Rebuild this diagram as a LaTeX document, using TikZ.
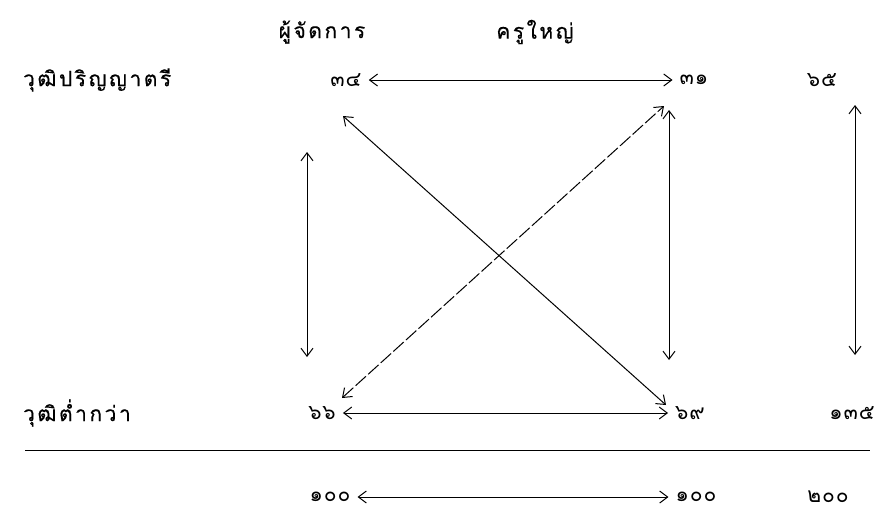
\documentclass[tikz,border=0pt]{standalone}
\usepackage{fontspec}
\newfontfamily\thaifont[Script=Thai,LetterSpace=12,FakeBold=0.4]{Loma}
\newfontfamily\thainum[Script=Thai,LetterSpace=4]{Loma}
\usetikzlibrary{arrows.meta}
\begin{document}
\begin{tikzpicture}[x=1pt,y=-1pt,
    lbl/.style={font=\thaifont\fontsize{21}{24}\selectfont, inner sep=1pt},
    num/.style={font=\thainum\fontsize{21}{24}\selectfont, inner sep=1pt},
    link/.style={<->, >={Straight Barb[length=8pt,width=12pt]}, line width=1pt, shorten <=6pt, shorten >=6pt}]
\useasboundingbox (0,0) rectangle (877,517);
% Column heads
\node[lbl] (hdA) at (322,32) {ผู้จัดการ};
\node[lbl] (hdB) at (535,32) {ครูใหญ่};
% Row heads
\node[lbl, anchor=west] (rowA) at (22,80) {วุฒิปริญญาตรี};
\node[lbl, anchor=west] (rowB) at (22,413) {วุฒิต่ำกว่า};
% Numbers
\foreach \n/\x/\y/\t in {a34/346/80/๓๔, a31/694/80/๓๑, a65/822/80/๖๕,
                         b66/322/413/๖๖, b69/690/413/๖๙, b135/852/413/๑๓๕,
                         c100/330/497/๑๐๐, d100/696/497/๑๐๐, e200/828/497/๒๐๐} {
    \node[num] (\n) at (\x,\y) {\t};
}
% Vertical arrow ends
\coordinate (vLt) at (307,152); \coordinate (vLb) at (307,357);
\coordinate (vMt) at (669,110); \coordinate (vMb) at (669,360);
\coordinate (vRt) at (855,105); \coordinate (vRb) at (855,355);
% Diagonal arrow ends
\coordinate (dNW) at (343,116); \coordinate (dSE) at (666,405);
\coordinate (dSW) at (342,398); \coordinate (dNE) at (664,106);

% Arrows
\draw[link] (a34.east) -- (a31.west);
\draw[link] (b66.east) -- (b69.west);
\draw[link] (c100.east) -- (d100.west);
\draw[link, shorten <=0pt, shorten >=0pt] (vLt) -- (vLb);
\draw[link, shorten <=0pt, shorten >=0pt] (vMt) -- (vMb);
\draw[link, shorten <=0pt, shorten >=0pt] (vRt) -- (vRb);
\draw[link, shorten <=0pt, shorten >=0pt] (dNW) -- (dSE);
\draw[link, shorten <=0pt, shorten >=0pt, dash pattern=on 14pt off 3pt] (dSW) -- (dNE);

% Rule above totals
\coordinate (ruleL) at (25,450); \coordinate (ruleR) at (870,450);
\draw[line width=1pt] (ruleL) -- (ruleR);
\end{tikzpicture}
\end{document}
